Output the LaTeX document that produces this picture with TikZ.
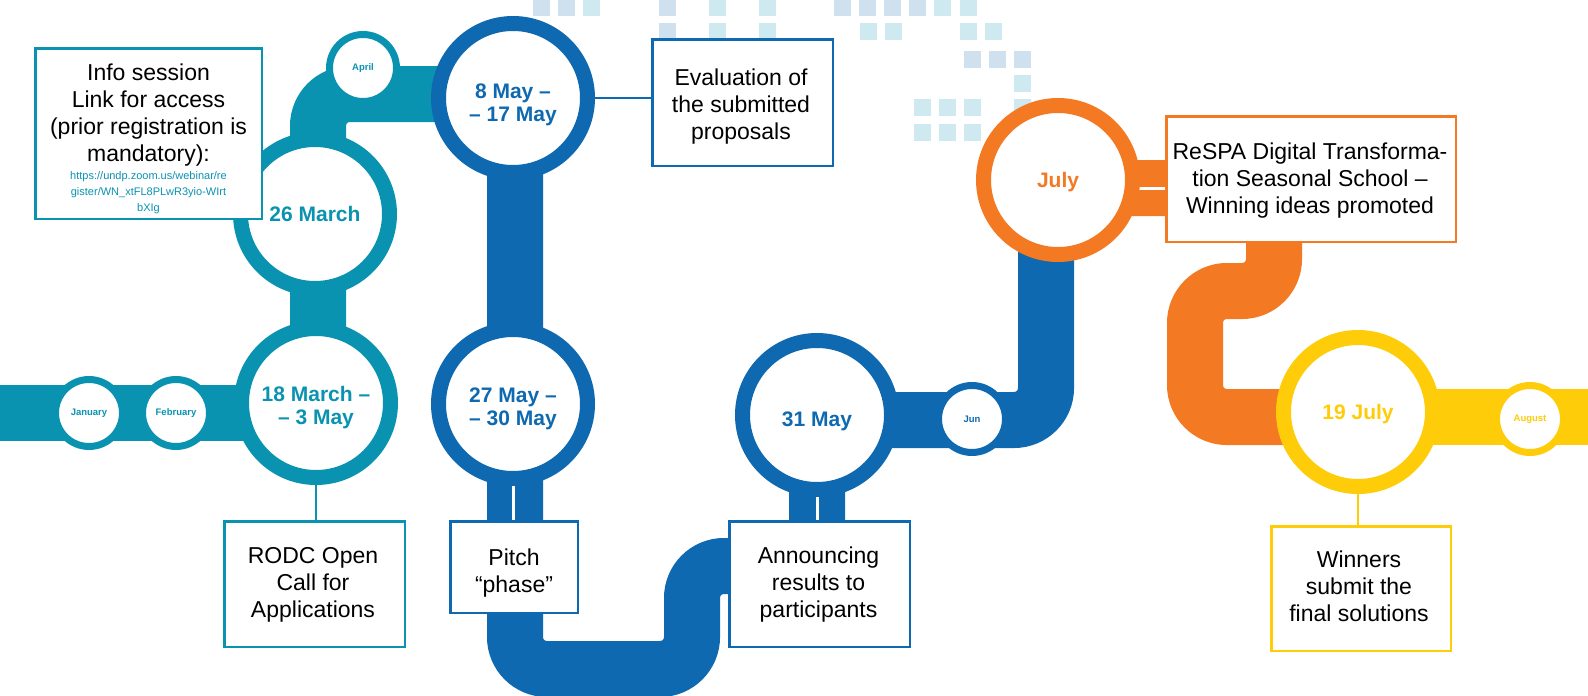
\documentclass[tikz,border=0pt]{standalone}
\usepackage{fontspec}
\setmainfont{Liberation Sans}
\definecolor{cteal}{RGB}{10,147,176}
\definecolor{cblue}{RGB}{14,105,176}
\definecolor{corange}{RGB}{243,121,35}
\definecolor{cyellow}{RGB}{254,204,9}
\definecolor{sqblue}{RGB}{207,224,238}
\definecolor{sqteal}{RGB}{206,233,239}
\pgfdeclarelayer{back}
\pgfdeclarelayer{mid}
\pgfsetlayers{back,mid,main}
\tikzset{
  track/.style={line width=56pt, rounded corners=32pt},
  conn/.style={line width=2.5pt},
  bigc/.style={circle, draw=#1, line width=15pt, fill=white, minimum size=149pt, inner sep=0pt},
  bigt/.style={text=#1, align=center, inner sep=0pt, font=\bfseries\fontsize{21}{23}\selectfont},
  smallc/.style={circle, draw=#1, line width=7pt, fill=white, minimum size=67pt,
    inner sep=0pt, text=#1, font=\bfseries\fontsize{9.5}{11}\selectfont},
  tbox/.style={draw=#1, line width=2.5pt, fill=white, inner sep=0pt},
  btext/.style={align=center, inner sep=0pt, font=\fontsize{23}{27}\selectfont},
  sq/.style={fill=#1}
}
\begin{document}
\begin{tikzpicture}[x=1pt,y=-1pt]
\useasboundingbox (0,0) rectangle (1588,696);

% circles
\node[bigc=cteal] (m26) at (315,214) {};
\node[bigc=cteal] (m18) at (316,403) {};
\node[bigc=cblue] (may8) at (513,98) {};
\node[bigc=cblue] (may27) at (513,404) {};
\node[bigc=cblue] (may31) at (817,415) {};
\node[bigc=corange] (jul) at (1058,180) {};
\node[bigc=cyellow] (jul19) at (1358,412) {};
\node[bigt=cteal] (m26t) at (315,214) {26 March};
\node[bigt=cteal] (m18t) at (316,408) {18 March –\\– 3 May};
\node[bigt=cblue] (may8t) at (513,105) {8 May –\\– 17 May};
\node[bigt=cblue] (may27t) at (513,409) {27 May –\\– 30 May};
\node[bigt=cblue] (may31t) at (817,421.5) {31 May};
\node[bigt=corange] (jult) at (1058,182) {July};
\node[bigt=cyellow] (jul19t) at (1358,414) {19 July};
\node[smallc=cteal] (jan) at (89,413) {January};
\node[smallc=cteal] (feb) at (176,413) {February};
\node[smallc=cteal] (apr) at (363,68) {April};
\node[smallc=cblue] (jun) at (972,419) {Jun};
\node[smallc=cyellow] (aug) at (1530,419) {August};

% boxes
\node[tbox=cteal, minimum width=226.5pt, minimum height=170.5pt] (info) at (148.5,133.5) {};
\node[btext] (infotext) at (148.5,115.5)
  {Info session\\Link for access\\(prior registration is\\mandatory):};
\node[font=\fontsize{11}{16.2}\selectfont, align=center, inner sep=0pt, text=cteal] (infolink) at (148.5,192.5)
  {https://undp.zoom.us/webinar/re\\gister/WN\_xtFL8PLwR3yio-WIrt\\bXIg};
\node[tbox=cblue, minimum width=180.5pt, minimum height=126.5pt] (eval) at (742.5,102.5) {};
\node[btext] (evalt) at (741,107) {Evaluation of\\the submitted\\proposals};
\node[tbox=cteal, minimum width=180.5pt, minimum height=125.5pt] (rodc) at (314.5,584) {};
\node[btext] (rodct) at (313,585) {RODC Open\\Call for\\Applications};
\node[tbox=cblue, minimum width=127.5pt, minimum height=91.5pt] (pitch) at (514,567) {};
\node[btext] (pitcht) at (514,573.5) {Pitch\\“phase”};
\node[tbox=cblue, minimum width=180.5pt, minimum height=125.5pt] (ann) at (819.5,584) {};
\node[btext] (annt) at (818.5,585) {Announcing\\results to\\participants};
\node[tbox=corange, minimum width=289.5pt, minimum height=125.5pt] (respa) at (1311,179) {};
\node[btext] (respat) at (1310,181) {ReSPA Digital Transforma-\\tion Seasonal School –\\Winning ideas promoted};
\node[tbox=cyellow, minimum width=179.5pt, minimum height=124.5pt] (win) at (1361,588.5) {};
\node[btext] (wint) at (1359,586.5) {Winners\\submit the\\final solutions};

\coordinate (jr) at (1058,188);

\begin{pgfonlayer}{back}
  % decorative squares
  \foreach \x/\y/\c in {533/-1/sqblue,558/-1/sqblue,583/-1/sqteal,
      659/-1/sqblue,709/-1/sqteal,759/-1/sqteal,
      834/-1/sqblue,859/-1/sqblue,884/-1/sqblue,909/-1/sqblue,934/-1/sqteal,960/-1/sqteal,
      659/23/sqblue,709/23/sqteal,759/23/sqteal,860/23/sqteal,885/23/sqteal,960/23/sqteal,985/23/sqteal,
      964/51/sqblue,989/51/sqblue,1014/51/sqblue,
      1014/75/sqteal,
      914/99/sqteal,939/99/sqteal,964/99/sqteal,1014/99/sqteal,
      914/124/sqteal,939/124/sqteal,964/124/sqteal}
    \fill[sq=\c] (\x,\y) rectangle ++(17,17);
  % tracks
  \draw[track, cteal] (0,413) -- (318,413);
  \draw[track, cteal] (318,404) -- (318,94) -- (513,94);
  \draw[track, cblue] (515,98) -- (515,669) -- (692,669) -- (692,566) -- (817,566) -- (817,415);
  \draw[track, cblue] (817,420) -- (1046,420) -- (1046,180);
  \draw[track, corange] (1058,188) -- (1274,188) -- (1274,291) -- (1195,291) -- (1195,417) -- (1358,417);
  \draw[track, cyellow] (1358,417) -- (1588,417);
\end{pgfonlayer}

\begin{pgfonlayer}{mid}
  \draw[conn, cteal] (m18.center) -- (m18.center |- rodc.center);
  \draw[conn, cblue] (may8.center) -- (may8.center -| eval.center);
  \draw[conn, white, line width=3pt] (may27.center) -- (may27.center |- pitch.center);
  \draw[conn, white, line width=3pt] (may31.center) -- (may31.center |- ann.center);
  \draw[conn, white, line width=3pt] (jr) -- (jr -| respa.center);
  \draw[conn, cyellow] (jul19.center) -- (jul19.center |- win.center);
\end{pgfonlayer}
\end{tikzpicture}
\end{document}
